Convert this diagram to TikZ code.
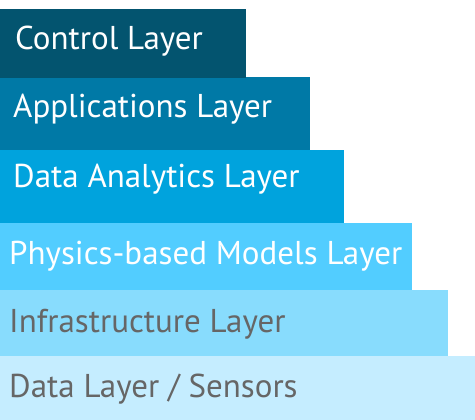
\documentclass[tikz,border=0pt]{standalone}
\usepackage{fontspec}
\setmainfont{PT Sans}
\definecolor{cCtl}{HTML}{03546F}
\definecolor{cApp}{HTML}{0079A6}
\definecolor{cAna}{HTML}{00A3DD}
\definecolor{cPhy}{HTML}{52CDFF}
\definecolor{cInf}{HTML}{88DCFD}
\definecolor{cDat}{HTML}{C5EDFF}
\definecolor{cGray}{HTML}{666666}
\begin{document}
\begin{tikzpicture}[x=1pt,y=-1pt,
  lbl/.style={anchor=base west,inner sep=0pt,font=\fontsize{33}{38}\selectfont}]
\useasboundingbox (0,0) rectangle (475,420);
\fill[cDat] (0,356) rectangle (475,420);
\fill[cInf] (0,290) rectangle (448,356);
\fill[cPhy] (0,223) rectangle (412,290);
\fill[cAna] (0,150) rectangle (344,223);
\fill[cApp] (0,77.5) rectangle (310,150);
\fill[cCtl] (0,9) rectangle (246,78);
\node[lbl,text=white] (t1) at (15,50) {Control Layer};
\node[lbl,text=white] (t2) at (13,118) {Applications Layer};
\node[lbl,text=white] (t3) at (13,188) {Data Analytics Layer};
\node[lbl,text=white] (t4) at (9,265) {Physics-based Models Layer};
\node[lbl,text=cGray] (t5) at (9,333) {Infrastructure Layer};
\node[lbl,text=cGray] (t6) at (9,397) {Data Layer / Sensors};
\end{tikzpicture}
\end{document}
